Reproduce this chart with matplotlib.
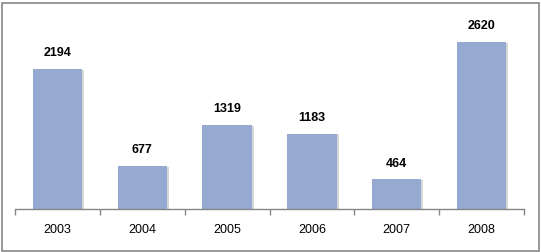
import matplotlib
matplotlib.use("Agg")
from matplotlib import pyplot as plt
from matplotlib import patheffects
from matplotlib.patches import Rectangle

# data
years = ["2003", "2004", "2005", "2006", "2007", "2008"]
values = [2194, 677, 1319, 1183, 464, 2620]

plt.rcParams['font.family'] = ['Liberation Sans', 'DejaVu Sans']

fig = plt.figure(figsize=(5.41, 2.52), dpi=100)
ax = fig.add_axes([15 / 541, 43 / 252, 509 / 541, 191.4 / 252])

x = range(len(years))
bars = ax.bar(x, values, width=0.58, color='#95A9D1', edgecolor='none', zorder=2)
for b in bars:
    b.set_path_effects([
        patheffects.SimplePatchShadow(offset=(1.5, -0.5), shadow_rgbFace='#b0b0b0', alpha=0.5),
        patheffects.Normal(),
    ])

# value labels
for i, v in enumerate(values):
    ax.annotate(str(v), (i, v), xytext=(0, 7), textcoords='offset points',
                ha='center', va='bottom', fontsize=9, fontweight='bold', color='black')

ax.set_xlim(-0.5, len(years) - 0.5)
ax.set_ylim(0, 3000)

# ticks at category boundaries, labels at centres
ax.set_xticks([i - 0.5 for i in range(len(years) + 1)])
ax.set_xticklabels([])
ax.set_xticks(list(x), minor=True)
ax.set_xticklabels(years, minor=True, fontsize=9)
ax.tick_params(axis='x', which='major', direction='out', length=4, color='#868686', width=1)
ax.tick_params(axis='x', which='minor', length=0, pad=11)
ax.set_yticks([])

for s in ['top', 'right', 'left']:
    ax.spines[s].set_visible(False)
ax.spines['bottom'].set_color('#868686')
ax.spines['bottom'].set_linewidth(1)

# grey frame around the whole picture
fig.patches.append(Rectangle((1.5 / 541, 1.5 / 252), 537 / 541, 248 / 252,
                             transform=fig.transFigure, fill=False,
                             edgecolor='#868686', linewidth=1.2))

plt.savefig('out.png', dpi=100)
